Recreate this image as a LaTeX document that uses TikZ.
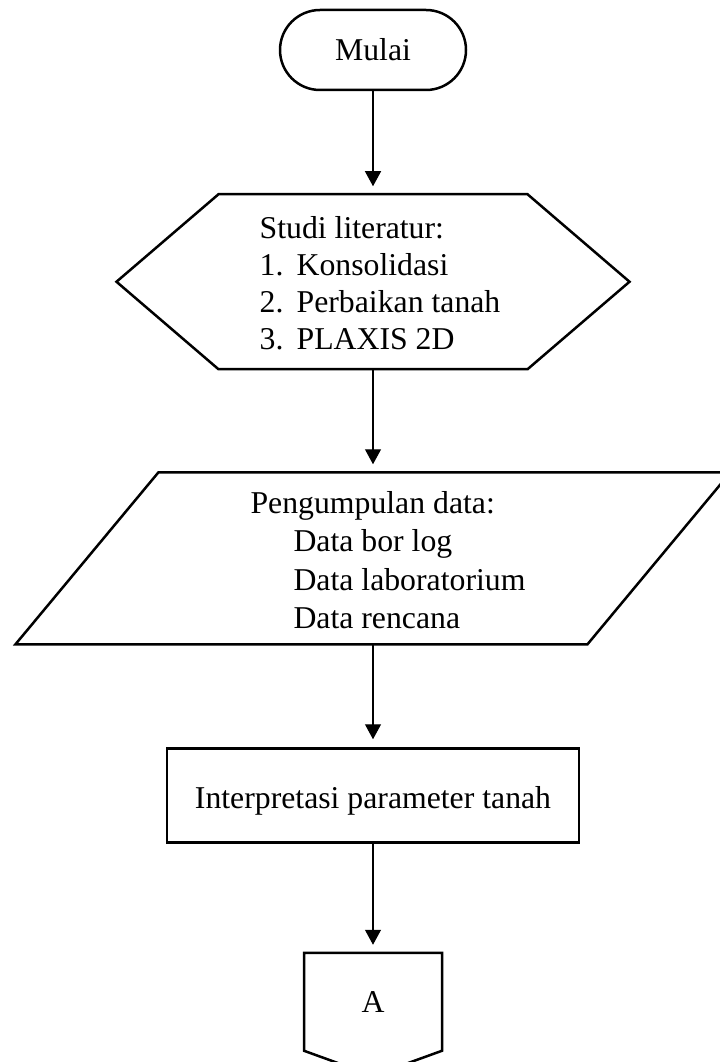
\documentclass[tikz,border=0pt]{standalone}
\usepackage{fontspec}
\setmainfont{Liberation Serif}
\usetikzlibrary{positioning, arrows.meta}

\begin{document}
\begin{tikzpicture}[
            node distance=41.2pt,
            every node/.style={font=\fontsize{12.7pt}{14.7pt}\selectfont, inner sep=0pt},
            terminal/.style={rectangle, draw, line width=1pt, rounded corners=16pt, minimum width=74.4pt, minimum height=32pt},
            hexbox/.style={rectangle, minimum width=204.8pt, minimum height=69.6pt},
            databox/.style={rectangle, minimum width=285.6pt, minimum height=68.4pt},
            process/.style={rectangle, draw, line width=1pt, minimum width=164.8pt, minimum height=37.6pt},
            connbox/.style={rectangle, minimum width=54.8pt, minimum height=38.8pt},
            outline/.style={line width=1pt},
            arrow/.style={-{Triangle[width=6.4pt,length=6pt]}, line width=0.5pt, shorten >=3.2pt}
        ]
            \useasboundingbox (0,0) rectangle (288pt,-424.8pt);

            \node[terminal] (mulai) at (149.2pt,-20pt) {Mulai};
            \node[hexbox, below=of mulai] (studi) {\raisebox{-2pt}[\height][\depth]{%
                \begin{tabular}{@{\hspace{5.6pt}}l@{}}
                    Studi literatur:\\
                    \makebox[14.8pt][l]{1.}Konsolidasi\\
                    \makebox[14.8pt][l]{2.}Perbaikan tanah\\
                    \makebox[14.8pt][l]{3.}PLAXIS 2D
                \end{tabular}}};
            \node[databox, below=of studi, font=\fontsize{12.7pt}{15.3pt}\selectfont] (data) {\raisebox{-2pt}[\height][\depth]{%
                \begin{tabular}{@{\hspace{12pt}}l@{}}
                    Pengumpulan data:\\
                    \hspace{17.2pt}Data bor log\\
                    \hspace{17.2pt}Data laboratorium\\
                    \hspace{17.2pt}Data rencana
                \end{tabular}}};
            \node[process, below=of data] (interp) {\raisebox{-2pt}[\height][\depth]{Interpretasi parameter tanah}};
            \node[connbox, below=43.6pt of interp] (konA) {A};

            % bentuk
            \draw[outline] (studi.west) -- ([xshift=40.8pt]studi.north west) -- ([xshift=-40.8pt]studi.north east)
                -- (studi.east) -- ([xshift=-40.8pt]studi.south east) -- ([xshift=40.8pt]studi.south west) -- cycle;
            \draw[outline] ([xshift=57.2pt]data.north west) -- (data.north east)
                -- ([xshift=-57.2pt]data.south east) -- (data.south west) -- cycle;
            \draw[outline] (konA.north west) -- (konA.north east) -- (konA.south east)
                -- ([yshift=-10pt]konA.south) -- (konA.south west) -- cycle;

            \draw[arrow] (mulai) -- (studi);
            \draw[arrow] (studi) -- (data);
            \draw[arrow] (data) -- (interp);
            \draw[arrow] (interp) -- (konA);
        \end{tikzpicture}
\end{document}
